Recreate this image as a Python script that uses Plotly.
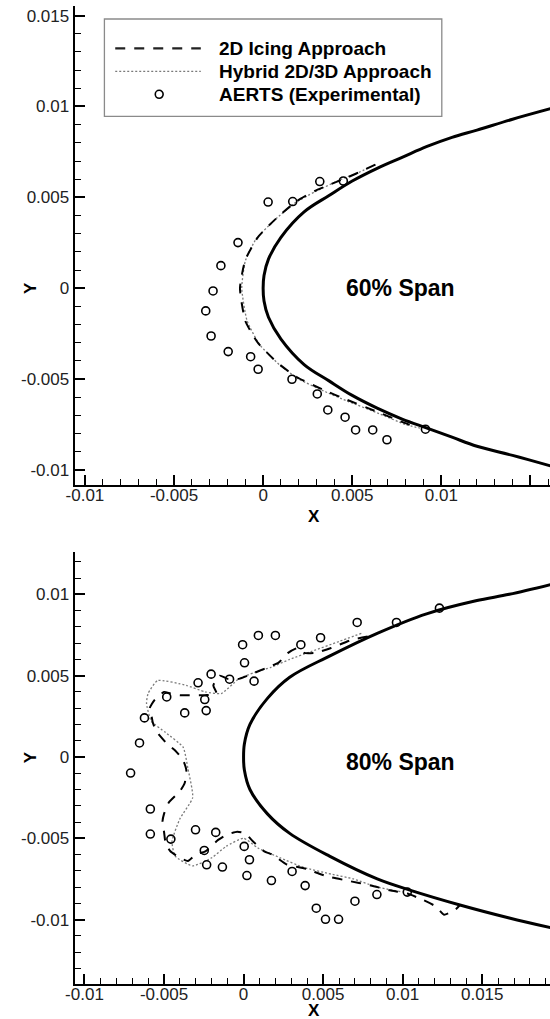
import plotly.graph_objects as go

# ---------------- 60% span ----------------
airfoil60_x = [0.0162, 0.0140, 0.0120, 0.0106, 0.0092, 0.0078, 0.0064, 0.0050, 0.0037, 0.0023, 0.0010, 0.0003, 0.00005, 0.0,
               0.00005, 0.0003, 0.0010, 0.0023, 0.0037, 0.0050, 0.0064, 0.0078, 0.0092, 0.0106, 0.0120, 0.0140, 0.0162]
airfoil60_y = [0.0099, 0.0093, 0.0087, 0.0083, 0.0078, 0.0072, 0.0066, 0.0059, 0.0051, 0.0042, 0.0028, 0.0016, 0.0007, 0.0,
               -0.0007, -0.0016, -0.0028, -0.0042, -0.0051, -0.0059, -0.0066, -0.0072, -0.0077, -0.0082, -0.0087, -0.0092, -0.0098]

ice2d60_x = [0.0063, 0.0052, 0.0045, 0.0030, 0.0019, 0.0008, -0.0003, -0.0010, -0.0013,
             -0.0010, -0.0003, 0.0008, 0.0019, 0.0034, 0.0046, 0.0064, 0.0079, 0.0087]
ice2d60_y = [0.0068, 0.0063, 0.0060, 0.0054, 0.0048, 0.0039, 0.0028, 0.00156, 0.0,
             -0.0018, -0.0030, -0.0041, -0.0049, -0.0056, -0.0061, -0.0068, -0.0074, -0.0077]

hybrid60_x = [0.0063, 0.0052, 0.0044, 0.0029, 0.0018, 0.0007, -0.0004, -0.0010, -0.0012,
              -0.0009, -0.0002, 0.0009, 0.0020, 0.0035, 0.0047, 0.0065, 0.0080, 0.0088]
hybrid60_y = [0.0068, 0.0063, 0.0060, 0.0053, 0.0047, 0.0038, 0.0027, 0.0015, 0.0,
              -0.0018, -0.0031, -0.0042, -0.0050, -0.0057, -0.0062, -0.0069, -0.0075, -0.0077]

exp60_x = [0.00028, 0.00166, 0.00318, 0.00450, -0.00141, -0.00237, -0.00281, -0.00322, -0.00292, -0.00196,
           -0.00070, -0.00028, 0.00162, 0.00304, 0.00363, 0.00460, 0.00519, 0.00615, 0.00695, 0.00911]
exp60_y = [0.00474, 0.00477, 0.00587, 0.00590, 0.00251, 0.00124, -0.00015, -0.00125, -0.00263, -0.00349,
           -0.00377, -0.00446, -0.00501, -0.00582, -0.00670, -0.00710, -0.00780, -0.00780, -0.00834, -0.00776]

# ---------------- 80% span ----------------
airfoil80_x = [0.0193, 0.0167, 0.0146, 0.0115, 0.0084, 0.0054, 0.0029, 0.0015, 0.0004, 0.00005, 0.0,
               0.00005, 0.0004, 0.0015, 0.0029, 0.0054, 0.0084, 0.0105, 0.0136, 0.0167, 0.0193]
airfoil80_y = [0.0106, 0.0100, 0.0096, 0.0088, 0.0076, 0.0062, 0.0049, 0.0036, 0.0020, 0.0008, 0.0,
               -0.0008, -0.0020, -0.0035, -0.0047, -0.0061, -0.0075, -0.0082, -0.0091, -0.0099, -0.0105]

ice2d80_x = [0.0078, 0.0068, 0.0055, 0.0045, 0.0038, 0.0034, 0.0028, 0.0022, 0.0015, 0.0005, -0.0003,
             -0.0010, -0.0015, -0.0019, -0.0017, -0.0024, -0.0035, -0.0040, -0.0046, -0.0050, -0.0056,
             -0.0059, -0.0058, -0.0057, -0.0055, -0.0048, -0.0043, -0.0038, -0.0036, -0.0037, -0.0040,
             -0.0047, -0.0050, -0.0051, -0.0050, -0.0049, -0.0046, -0.0040, -0.0035, -0.0030, -0.0024,
             -0.0016, -0.0011, -0.0004, 0.0001, 0.0006, 0.0013, 0.0018, 0.0027, 0.0031, 0.0040, 0.0048,
             0.0055, 0.0065, 0.0080, 0.0092, 0.0103, 0.0113, 0.0121, 0.0126, 0.0133, 0.0136]
ice2d80_y = [0.0074, 0.0072, 0.0067, 0.0064, 0.0064, 0.0067, 0.0064, 0.0058, 0.0055, 0.0051, 0.0048,
             0.0048, 0.0050, 0.0044, 0.0039, 0.0038, 0.0038, 0.0038, 0.0039, 0.0040, 0.0035,
             0.0030, 0.0026, 0.0021, 0.0016, 0.0008, 0.0004, -0.0002, -0.0008, -0.0016, -0.0021,
             -0.0028, -0.0035, -0.0040, -0.0046, -0.0053, -0.0058, -0.0062, -0.0064, -0.0060, -0.0058,
             -0.0051, -0.0048, -0.0046, -0.0047, -0.0052, -0.0058, -0.0060, -0.0066, -0.0067, -0.0069, -0.0072,
             -0.0074, -0.0076, -0.0079, -0.0082, -0.0084, -0.0088, -0.0092, -0.0097, -0.0094, -0.0091]

hybrid80_x = [0.0074, 0.0060, 0.0043, 0.0029, 0.0017, 0.0007, -0.0003, -0.0014, -0.0024, -0.0036,
              -0.0054, -0.0060, -0.0061, -0.0058, -0.0049, -0.0038, -0.0035, -0.0032, -0.0040, -0.0045,
              -0.0043, -0.0032, -0.0020, -0.0011, 0.0, 0.0009, 0.0023, 0.0038, 0.0055, 0.0069, 0.0084, 0.0100]
hybrid80_y = [0.0076, 0.0071, 0.0065, 0.0060, 0.0055, 0.0052, 0.0048, 0.0039, 0.0040, 0.0044,
              0.0047, 0.0039, 0.0033, 0.0022, 0.0015, 0.0006, -0.0007, -0.0025, -0.0038, -0.0052,
              -0.0061, -0.0067, -0.0062, -0.0055, -0.0050, -0.0056, -0.0062, -0.0068, -0.0072, -0.0075, -0.0080, -0.0083]

exp80_x = [0.00093, 0.00200, -0.00006, 0.00006, 0.00360, 0.00484, 0.00714, 0.00961, 0.01231,
           -0.00204, -0.00088, 0.00066, -0.00286, -0.00483, -0.00244, -0.00370, -0.00235, -0.00623,
           -0.00654, -0.00710, -0.00586, -0.00586, -0.00457, -0.00302, -0.00175, -0.00247, -0.00232,
           -0.00133, 0.00004, 0.00037, 0.00021, 0.00175, 0.00305, 0.00387, 0.00457, 0.00515, 0.00597,
           0.00700, 0.00838, 0.01029]
exp80_y = [0.00747, 0.00747, 0.00690, 0.00579, 0.00690, 0.00733, 0.00827, 0.00827, 0.00915,
           0.00509, 0.00478, 0.00466, 0.00456, 0.00369, 0.00353, 0.00271, 0.00285, 0.00240,
           0.00086, -0.00099, -0.00320, -0.00474, -0.00505, -0.00448, -0.00464, -0.00575, -0.00663,
           -0.00677, -0.00550, -0.00632, -0.00729, -0.00760, -0.00704, -0.00791, -0.00930, -0.00998, -0.00998,
           -0.00887, -0.00846, -0.00831]

# ---------------- ticks / labels ----------------
x_tickvals = [-0.01, -0.005, 0, 0.005, 0.01, 0.015]
x_ticktext = ["-0.01", "-0.005", "0", "0.005", "0.01", "0.015"]
y_tickvals_top = [-0.01, -0.005, 0, 0.005, 0.01, 0.015]
y_ticktext_top = ["-0.01", "-0.005", "0", "0.005", "0.01", "0.015"]
y_tickvals_bot = [-0.01, -0.005, 0, 0.005, 0.01]
y_ticktext_bot = ["-0.01", "-0.005", "0", "0.005", "0.01"]
legend_labels = ["2D Icing Approach", "Hybrid 2D/3D Approach", "AERTS (Experimental)"]
span_labels = ["60% Span", "80% Span"]

W, H = 550, 1019
FONT = "Liberation Sans, Arial, Helvetica, sans-serif"
DASH2D = "10px,9px"
DOT = "2px,2px"
HYB_COLOR = "#7a7a7a"

fig = go.Figure()


def add_panel(ax, ay, afx, afy, ix, iy, hx, hy, ex, ey):
    fig.add_trace(go.Scatter(x=afx, y=afy, mode="lines", xaxis=ax, yaxis=ay, showlegend=False,
                             line=dict(color="black", width=3, shape="spline", smoothing=1.0)))
    fig.add_trace(go.Scatter(x=hx, y=hy, mode="lines", xaxis=ax, yaxis=ay, showlegend=False,
                             line=dict(color=HYB_COLOR, width=1.3, dash=DOT, shape="spline", smoothing=0.5)))
    fig.add_trace(go.Scatter(x=ix, y=iy, mode="lines", xaxis=ax, yaxis=ay, showlegend=False,
                             line=dict(color="black", width=2, dash=DASH2D, shape="spline", smoothing=0.5)))
    fig.add_trace(go.Scatter(x=ex, y=ey, mode="markers", xaxis=ax, yaxis=ay, showlegend=False,
                             marker=dict(symbol="circle-open", size=8, color="black",
                                         line=dict(width=1.6, color="black"))))


add_panel("x", "y", airfoil60_x, airfoil60_y, ice2d60_x, ice2d60_y, hybrid60_x, hybrid60_y, exp60_x, exp60_y)
add_panel("x2", "y2", airfoil80_x, airfoil80_y, ice2d80_x, ice2d80_y, hybrid80_x, hybrid80_y, exp80_x, exp80_y)

axis_common = dict(showgrid=False, zeroline=False, showline=True, linecolor="black", linewidth=2,
                   ticks="inside", ticklen=10, tickwidth=2, tickcolor="black",
                   tickfont=dict(family=FONT, size=17, color="#222"),
                   minor=dict(ticks="inside", ticklen=6, tickwidth=1, tickcolor="black",
                              tickmode="linear", tick0=0, dtick=0.001),
                   mirror=False, tickmode="array")

px0 = 66.7 / W


def pyd(top, bottom):
    return [1 - bottom / H, 1 - top / H]


fig.update_layout(
    width=W, height=H, margin=dict(l=0, r=0, t=0, b=0),
    paper_bgcolor="white", plot_bgcolor="white", showlegend=False,
    xaxis=dict(axis_common, domain=[px0, 1], range=[-0.01058, 0.0161], anchor="y",
               tickvals=x_tickvals, ticktext=x_ticktext),
    yaxis=dict(axis_common, domain=pyd(6, 485), range=[-0.01083, 0.01553], anchor="x",
               tickvals=y_tickvals_top, ticktext=y_ticktext_top),
    xaxis2=dict(axis_common, domain=[px0, 1], range=[-0.01062, 0.01926], anchor="y2",
                tickvals=x_tickvals, ticktext=x_ticktext),
    yaxis2=dict(axis_common, domain=pyd(551.7, 984), range=[-0.01396, 0.01262], anchor="x2",
                tickvals=y_tickvals_bot, ticktext=y_ticktext_bot),
)
try:
    fig.update_xaxes(ticklabelstandoff=-6)
except ValueError:
    pass


def pp(px, py):
    return px / W, 1 - py / H


annotations = []
shapes = []

# axis titles
for (tx, ty, txt, ang) in [(310, 516, "X", 0), (310, 1010, "X", 0), (22, 288.3, "Y", -90), (22, 757.5, "Y", -90)]:
    x, y = pp(tx, ty)
    annotations.append(dict(x=x, y=y, xref="paper", yref="paper", text="<b>%s</b>" % txt, showarrow=False,
                            textangle=ang, xanchor="center", yanchor="middle", borderpad=0,
                            font=dict(family=FONT, size=17, color="black")))

# span labels
for (tx, ty, txt) in [(398.3, 288.3, span_labels[0]), (398.3, 762, span_labels[1])]:
    x, y = pp(tx, ty)
    annotations.append(dict(x=x, y=y, xref="paper", yref="paper", text="<b>%s</b>" % txt, showarrow=False,
                            xanchor="center", yanchor="middle",
                            font=dict(family=FONT, size=23, color="black")))

# legend box
x0, y0 = pp(97, 116.3)
x1, y1 = pp(440, 19)
shapes.append(dict(type="rect", xref="paper", yref="paper", x0=x0, y0=y0, x1=x1, y1=y1,
                   line=dict(color="#8a8a8a", width=1.3), fillcolor="white", layer="above"))
rows = [48.3, 71.3, 94.3]
a, b = pp(108, rows[0]); c, d = pp(195, rows[0])
shapes.append(dict(type="line", xref="paper", yref="paper", x0=a, y0=b, x1=c, y1=d,
                   line=dict(color="#222", width=2.2, dash=DASH2D), layer="above"))
a, b = pp(108, rows[1]); c, d = pp(195, rows[1])
shapes.append(dict(type="line", xref="paper", yref="paper", x0=a, y0=b, x1=c, y1=d,
                   line=dict(color=HYB_COLOR, width=1.3, dash=DOT), layer="above"))
a, b = pp(152.7 - 4, rows[2] + 4); c, d = pp(152.7 + 4, rows[2] - 4)
shapes.append(dict(type="circle", xref="paper", yref="paper", x0=a, y0=b, x1=c, y1=d,
                   line=dict(color="black", width=1.6), layer="above"))
for r, lab in zip(rows, legend_labels):
    x, y = pp(211.7, r)
    annotations.append(dict(x=x, y=y, xref="paper", yref="paper", text="<b>%s</b>" % lab, showarrow=False,
                            xanchor="left", yanchor="middle",
                            font=dict(family=FONT, size=19, color="black")))

fig.update_layout(annotations=annotations, shapes=shapes)
fig.write_html(
    "out.html",
    config={"displayModeBar": False},
    post_script="document.documentElement.style.margin='0';document.body.style.margin='0';"
                "document.body.style.overflow='hidden';document.documentElement.style.overflow='hidden';",
)
